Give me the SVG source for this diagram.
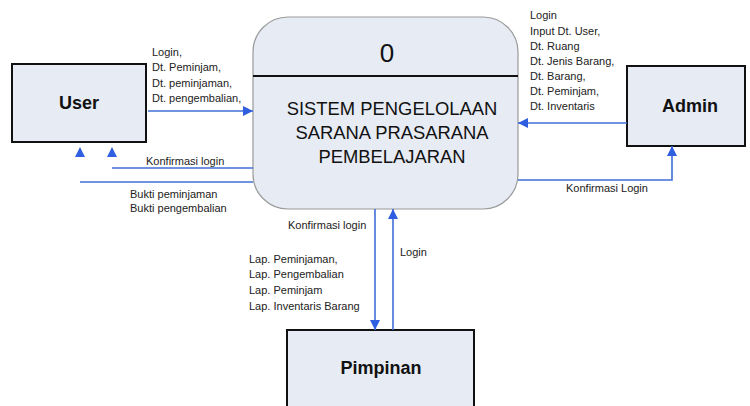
<svg xmlns="http://www.w3.org/2000/svg" width="750" height="406" viewBox="0 0 750 406">
<style>
.ent{fill:#e6ebf4;stroke:#111;stroke-width:2}
.proc{fill:#e6ebf4;stroke:#9a9a9a;stroke-width:1.2}
.title{font-family:"Liberation Sans",Arial,sans-serif;font-weight:bold;font-size:18px;fill:#111;text-anchor:middle}
.ptxt{font-family:"Liberation Sans",Arial,sans-serif;font-size:18.4px;fill:#111;text-anchor:middle}
.num{font-family:"Liberation Sans",Arial,sans-serif;font-size:26px;fill:#111;text-anchor:middle}
.lbl{font-family:"Liberation Sans",Arial,sans-serif;font-size:11px;fill:#222}
.flow{fill:none;stroke:#3f6fd6;stroke-width:1.6}
.head{fill:#2f5fe0}
</style>
<defs>
<marker id="arr" viewBox="0 0 10 10" refX="10" refY="5" markerWidth="10" markerHeight="10" markerUnits="userSpaceOnUse" orient="auto">
<path d="M0,0 L10,5 L0,10 Z" fill="#2f5fe0"/>
</marker>
</defs>
<g id="user">
<rect class="ent" x="12" y="64" width="134" height="78"/>
<text class="title" x="79" y="109">User</text>
</g>
<g id="process">
<rect class="proc" x="253" y="17" width="265" height="192" rx="35" ry="35"/>
<line x1="253" y1="76" x2="518" y2="76" stroke="#111" stroke-width="2"/>
<text class="num" x="387" y="62">0</text>
<text class="ptxt" x="392" y="115">SISTEM PENGELOLAAN</text>
<text class="ptxt" x="392" y="139">SARANA PRASARANA</text>
<text class="ptxt" x="392" y="163">PEMBELAJARAN</text>
</g>
<g id="admin">
<rect class="ent" x="627" y="66" width="118" height="80"/>
<text class="title" x="690" y="112">Admin</text>
</g>
<g id="pimpinan">
<rect class="ent" x="287" y="330" width="187" height="80"/>
<text class="title" x="381" y="374">Pimpinan</text>
</g>
<g id="connectors">
<line class="flow" x1="148" y1="111" x2="253" y2="111" marker-end="url(#arr)"/>
<line class="flow" x1="112" y1="168" x2="253" y2="168"/>
<line class="flow" x1="80" y1="182" x2="253" y2="182"/>
<path class="head" d="M112,147 L117,157 L107,157 Z"/>
<path class="head" d="M80,147 L85,157 L75,157 Z"/>
<line class="flow" x1="627" y1="123" x2="518" y2="123" marker-end="url(#arr)"/>
<polyline class="flow" points="518,180 672,180 672,146" marker-end="url(#arr)"/>
<line class="flow" x1="375" y1="209" x2="375" y2="330" marker-end="url(#arr)"/>
<line class="flow" x1="393" y1="330" x2="393" y2="209" marker-end="url(#arr)"/>
</g>
<g id="labels">
<text class="lbl" x="152" y="56">Login,</text>
<text class="lbl" x="152" y="71">Dt. Peminjam,</text>
<text class="lbl" x="152" y="87">Dt. peminjaman,</text>
<text class="lbl" x="152" y="102">Dt. pengembalian,</text>
<text class="lbl" x="146" y="165">Konfirmasi login</text>
<text class="lbl" x="130" y="198">Bukti peminjaman</text>
<text class="lbl" x="130" y="212">Bukti pengembalian</text>
<text class="lbl" x="530" y="19">Login</text>
<text class="lbl" x="530" y="35">Input Dt. User,</text>
<text class="lbl" x="530" y="50">Dt. Ruang</text>
<text class="lbl" x="530" y="65">Dt. Jenis Barang,</text>
<text class="lbl" x="530" y="80">Dt. Barang,</text>
<text class="lbl" x="530" y="95">Dt. Peminjam,</text>
<text class="lbl" x="530" y="110">Dt. Inventaris</text>
<text class="lbl" x="566" y="192">Konfirmasi Login</text>
<text class="lbl" x="288" y="229">Konfirmasi login</text>
<text class="lbl" x="400" y="256">Login</text>
<text class="lbl" x="249" y="263">Lap. Peminjaman,</text>
<text class="lbl" x="249" y="278">Lap. Pengembalian</text>
<text class="lbl" x="249" y="294">Lap. Peminjam</text>
<text class="lbl" x="249" y="310">Lap. Inventaris Barang</text>
</g>
</svg>
